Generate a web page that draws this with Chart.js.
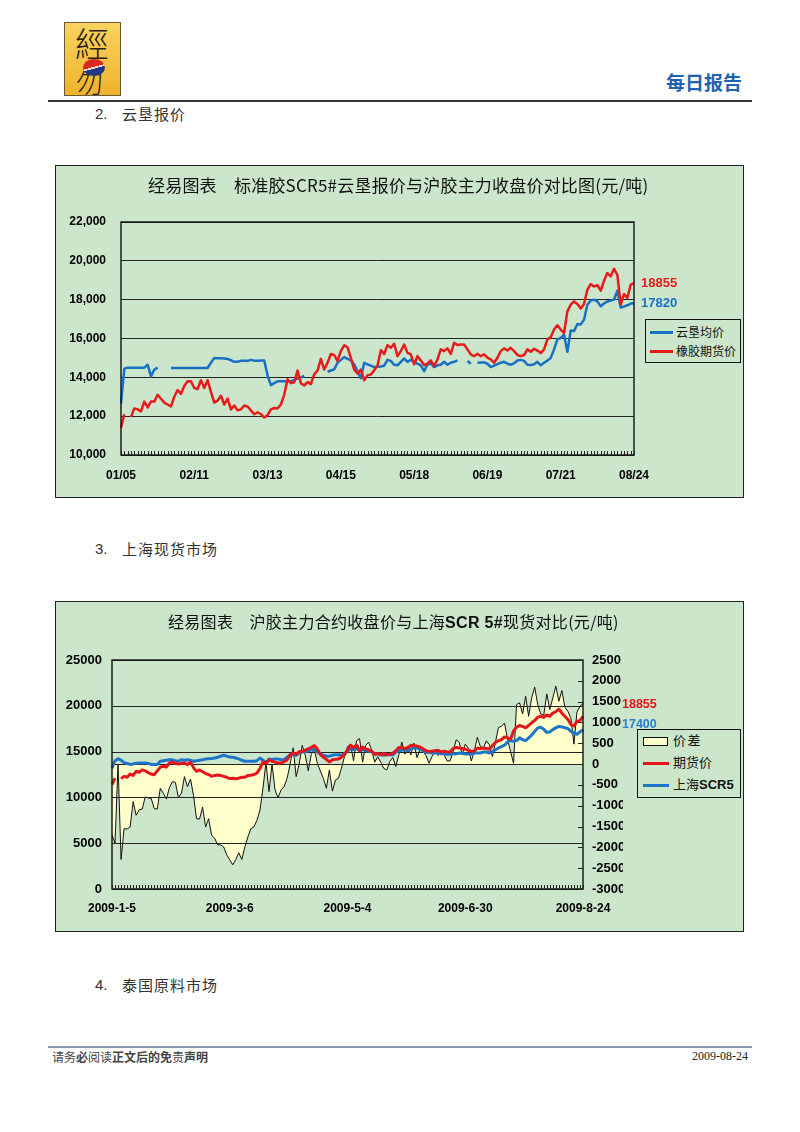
<!DOCTYPE html>
<html>
<head>
<meta charset="utf-8">
<script src="https://cdn.jsdelivr.net/npm/chart.js@4.4.1/dist/chart.umd.min.js"></script>
<style>
  body { margin: 0; width: 800px; height: 1132px; background: #fff; position: relative; overflow: hidden;
         font-family: "Noto Sans CJK SC", sans-serif; color: #222; }
  .abs { position: absolute; white-space: nowrap; }
  #logo { left: 64px; top: 22px; width: 57px; height: 74px; box-sizing: border-box; overflow: hidden;
          background: linear-gradient(180deg, #f9d35e, #efb32c); border: 1.5px solid #6b5a35; }
  #logo .c1 { left: 10px; top: 2px; font: 300 34px/36px "Noto Sans CJK TC"; color: #2b2112; }
  #logo .c2 { left: 11px; top: 45px; font: 300 27px/27px "Noto Sans CJK TC"; color: #2b2112; }
  #logo .dot { left: 18px; top: 36px; width: 22px; height: 17px; border-radius: 50%;
               background: linear-gradient(165deg, #d9281f 47%, #f3d9c0 47%, #f3d9c0 55%, #22378a 55%); }
  .sec { font-size: 15px; letter-spacing: 1px; color: #333; }
  .num { font: 15px "Liberation Sans", sans-serif; color: #333; }
  .box { box-sizing: border-box; border: 1px solid #222; background: #cce6cc; }
  .title { font-size: 17px; color: #111; letter-spacing: 0.2px; }
  .legend { box-sizing: border-box; border: 1px solid #111; background: #cce6cc; }
  .lgline { position: absolute; height: 3px; }
  .lgtxt { position: absolute; font-size: 12px; line-height: 14px; color: #111; }
</style>
</head>
<body>

<div id="logo" class="abs">
  <div class="abs c1">經</div>
  <div class="abs c2">勿</div>
  <div class="abs dot"></div>
</div>
<div class="abs" style="left:666px;top:68px;font-size:19px;font-weight:bold;color:#1e62b0;">每日报告</div>
<div class="abs" style="left:48px;top:100px;width:704px;height:1.5px;background:#333;"></div>

<div class="abs num" style="left:95px;top:105px;">2.</div>
<div class="abs sec" style="left:122px;top:103px;">云垦报价</div>

<!-- chart 1 -->
<div class="abs box" style="left:55px;top:165px;width:689px;height:333px;">
  <canvas id="c1" width="687" height="331" style="position:absolute;left:0;top:0;width:687px;height:331px;"></canvas>
</div>
<div class="abs title" style="left:148px;top:172px;">经易图表　标准胶SCR5#云垦报价与沪胶主力收盘价对比图(元/吨)</div>
<div class="abs legend" style="left:645px;top:319px;width:96px;height:44px;">
  <div class="lgline" style="left:4px;top:11px;width:23px;background:#1870c4;"></div>
  <div class="lgtxt" style="left:30px;top:5px;">云垦均价</div>
  <div class="lgline" style="left:4px;top:30px;width:23px;background:#e81a1a;"></div>
  <div class="lgtxt" style="left:30px;top:24px;">橡胶期货价</div>
</div>

<div class="abs num" style="left:95px;top:540px;">3.</div>
<div class="abs sec" style="left:122px;top:538px;">上海现货市场</div>

<!-- chart 2 -->
<div class="abs box" style="left:55px;top:601px;width:689px;height:331px;">
  <canvas id="c2" width="687" height="329" style="position:absolute;left:0;top:0;width:687px;height:329px;"></canvas>
</div>
<div class="abs title" style="left:168px;top:609px;font-size:16px;letter-spacing:0.3px;">经易图表　沪胶主力合约收盘价与上海<b style="font-family:'Liberation Sans';">SCR 5#</b>现货对比(元/吨)</div>
<div class="abs legend" style="left:637px;top:729px;width:104px;height:69px;">
  <div class="abs" style="left:5px;top:7px;width:25px;height:9px;box-sizing:border-box;border:1px solid #111;background:#ffffcc;"></div>
  <div class="lgtxt" style="left:35px;top:3px;font-size:13px;letter-spacing:1.5px;">价差</div>
  <div class="lgline" style="left:5px;top:32px;width:26px;background:#e5161b;"></div>
  <div class="lgtxt" style="left:35px;top:25px;font-size:13px;">期货价</div>
  <div class="lgline" style="left:5px;top:54px;width:26px;background:#1c75c8;"></div>
  <div class="lgtxt" style="left:35px;top:47px;font-size:13px;">上海<b style="font-family:'Liberation Sans';">SCR5</b></div>
</div>

<div class="abs num" style="left:95px;top:976px;">4.</div>
<div class="abs sec" style="left:122px;top:974px;">泰国原料市场</div>

<div class="abs" style="left:48px;top:1046px;width:704px;height:2px;background:#8798ae;"></div>
<div class="abs" style="left:52px;top:1048px;font-size:12px;color:#444;">请务<b>必</b>阅读<b>正文后的免</b>责<b>声明</b></div>
<div class="abs" style="left:692px;top:1049px;font:12px 'Liberation Serif',serif;color:#222;">2009-08-24</div>

<script>
// 图1：云垦均价 / 橡胶期货价（元/吨）
const ticks1 = ['01/05', '02/11', '03/13', '04/15', '05/18', '06/19', '07/21', '08/24'];

const yunkenPrice = [
  12650,14450,14500,14500,14500,14500,14500,14500,14650,14050,
  14400,14500,null,null,null,14480,14480,14480,14480,14480,
  14480,14480,14480,14480,14480,14480,14480,14750,15000,14980,
  14980,14970,14950,14880,14800,14800,14850,14850,14850,14900,
  14860,14860,14870,14870,14100,13600,13700,13800,13800,13800,
  13800,13800,13850,13950,14000,14080,null,null,null,null,
  null,null,14290,14350,14410,14750,14900,15040,14950,14870,
  14670,14300,13950,14750,14670,14600,14530,14550,14560,14600,
  14900,14850,14650,14620,14800,14970,14800,14900,14800,14700,
  14620,14320,14650,14720,14530,14620,14650,14800,14650,14750,
  14800,14870,null,null,14850,14700,null,14750,14760,14770,
  14700,14530,14600,14680,14750,14800,14700,14650,14720,14870,
  14900,14850,14650,14640,14670,14800,14620,14750,14860,15000,
  15440,15950,16030,16200,15320,16410,16380,16750,16720,16970,
  17740,17950,18000,17910,17660,17800,17910,17950,18000,18460,
  17600,17650,17710,17800,17820
];

const futuresPrice = [
  11400,12100,null,11950,12400,12350,12250,12750,12450,12750,
  12750,13100,12900,12700,12600,12500,13000,13350,13150,13550,
  13800,13800,13450,13400,13850,13450,13850,13250,12700,12800,
  13050,12600,12900,12350,12550,12300,12350,12550,12500,12300,
  12100,12200,12100,11930,12050,12350,12420,12400,12600,13100,
  13900,13700,13750,14350,13700,13580,13750,13650,14150,14350,
  14950,14400,14750,15200,15150,14850,15350,15650,15550,15000,
  14400,14200,14400,13850,14100,14150,14360,14600,15400,15200,
  15660,15520,15730,15090,15350,15690,15260,15180,14670,15090,
  14870,14630,14700,14870,14580,14920,15440,15350,15490,15210,
  15780,15660,15690,15690,15440,15180,15090,15210,15090,15180,
  15010,14920,14750,15010,15350,15490,15380,15520,15350,15150,
  15090,15150,15440,15320,15470,15380,15250,15440,15950,16070,
  16460,16680,16460,16290,17400,17740,17910,17780,17540,17780,
  18510,18800,18680,18750,18460,18970,19370,19200,19590,19280,
  17740,18290,18090,18770,18855
];

// 图2：价差（右轴）/ 期货价 / 上海SCR5
const ticks2 = ['2009-1-5', '2009-3-6', '2009-5-4', '2009-6-30', '2009-8-24'];

const spread = [
  -1700,-1900,0,-2290,-1550,-1560,-1510,-900,-1230,-1100,
  -1080,-790,-810,-830,-1070,-1080,-580,-700,-840,-570,
  -420,-440,-810,-700,-300,-540,-360,-750,-1310,-1320,
  -1030,-1510,-1310,-1710,-1780,-1940,-1940,-1990,-2180,-2300,
  -2420,-2290,-2130,-2290,-1990,-1750,-1550,-1510,-1350,-1110,
  -580,40,-660,0,-620,-810,-620,-540,-340,0,
  390,-300,0,450,220,-160,230,360,20,-165,
  -340,-580,-140,-650,-380,-340,-100,180,420,460,
  80,560,610,44,447,527,342,44,180,44,
  -101,-141,60,157,-60,220,527,237,382,220,
  503,157,342,302,205,20,180,302,205,302,
  220,76,76,300,583,527,220,479,382,76,
  302,640,423,382,560,463,180,527,881,906,
  986,600,302,20,1430,1470,1203,1630,1147,1590,
  1848,1429,1203,1171,1687,1308,1590,1872,1509,1767,
  1364,1268,1091,479,1252,1389,1455
];

const futures2 = [
  11400,12100,null,12050,12300,12200,12550,12400,12850,12750,
  13000,12900,12700,12550,12480,12900,13300,13400,13300,13750,
  13850,13700,13650,13700,13750,13580,13850,13250,12850,13000,
  12800,12600,12500,12300,12400,12450,12400,12300,12200,12050,
  12100,12040,12100,12200,12200,12400,12420,12500,12650,13150,
  13870,13700,14100,13950,13850,13750,13750,13900,14100,14650,
  14850,14700,15000,15000,15150,15300,15450,15650,15300,14700,
  14400,14150,13870,14100,14150,14200,14400,14650,15200,15700,
  15400,15750,15100,15500,15300,15200,15050,14700,14800,14650,
  14800,14650,14700,14800,15100,15450,15450,15300,15450,15700,
  15650,15600,15500,15300,15100,15000,15050,15100,15150,14950,
  15050,14950,14950,15350,15450,15400,15330,15250,15150,15050,
  15050,15400,15330,15400,15330,15250,15650,16000,16200,16300,
  16600,16500,16350,17250,17650,17850,17750,17600,17850,18150,
  18400,18750,18850,18750,19000,18850,19200,19350,19650,19200,
  18850,18500,17950,17800,18300,18400,18855
];

const shanghaiSCR5 = [
  13200,14000,14230,14050,13800,13700,13600,13650,13720,13750,
  13760,13760,13700,13600,13580,13600,13950,14000,14050,14100,
  14100,14000,13950,14120,14050,14120,14050,13950,14000,14050,
  14100,14200,14230,14250,14300,14380,14490,14600,14500,14400,
  14380,14300,14200,14050,13950,13950,13950,13940,14000,14300,
  14050,13800,14200,14150,14200,14200,14100,14150,14380,14650,
  14650,14600,14850,14950,15000,15080,15200,15230,14950,14750,
  14600,14500,14500,14600,14650,14650,14600,14750,15040,15300,
  15220,15330,15120,15220,15100,15050,14960,14750,14750,14650,
  14600,14650,14650,14650,14950,15100,15150,15220,15100,15300,
  15400,15400,15250,15100,14900,14950,14850,14850,14900,14750,
  14800,14700,14700,14780,14750,14850,14800,14750,14750,14740,
  14850,14850,14850,14950,14950,14850,15000,15200,15400,15550,
  15700,16060,16200,16130,16200,16500,16300,16200,16500,16800,
  17200,17590,17660,17450,17100,17150,17400,17590,17750,17700,
  17600,17520,17200,17000,16900,17150,17400
];

const tickFont = { family: 'Liberation Sans', size: 12, weight: 'bold' };

// 绘图区外框
const frame = {
  id: 'frame',
  afterDatasetsDraw(chart) {
    const { ctx, chartArea: a } = chart;
    ctx.save();
    ctx.strokeStyle = '#111';
    ctx.lineWidth = 1.4;
    ctx.strokeRect(a.left, a.top, a.right - a.left, a.bottom - a.top);
    ctx.restore();
  }
};

// 底部的密集刻度线（朝内），右轴刻度
const innerTicks = {
  id: 'innerTicks',
  afterDatasetsDraw(chart) {
    const { ctx, chartArea: a, scales } = chart;
    ctx.save();
    ctx.strokeStyle = '#222';
    ctx.lineWidth = 1;
    ctx.beginPath();
    for (let i = 0; i < chart.data.labels.length; i++) {
      const px = Math.round(scales.x.getPixelForValue(i)) + 0.5;
      ctx.moveTo(px, a.bottom);
      ctx.lineTo(px, a.bottom - 4);
    }
    if (scales.y2) {
      scales.y2.ticks.forEach(t => {
        const py = Math.round(scales.y2.getPixelForValue(t.value)) + 0.5;
        ctx.moveTo(a.right, py);
        ctx.lineTo(a.right - 5, py);
      });
    }
    ctx.stroke();
    ctx.restore();
  }
};

// 价差面积之上再画网格线
const gridOver = {
  id: 'gridOver',
  afterDatasetDraw(chart, args) {
    if (!chart.scales.y2 || args.index !== 0) return;
    const { ctx, chartArea: a, scales } = chart;
    ctx.save();
    ctx.strokeStyle = '#222';
    ctx.lineWidth = 1;
    ctx.beginPath();
    scales.y.ticks.forEach(t => {
      const py = Math.round(scales.y.getPixelForValue(t.value)) + 0.5;
      ctx.moveTo(a.left, py);
      ctx.lineTo(a.right, py);
    });
    const z = Math.round(scales.y2.getPixelForValue(0)) + 0.5;
    ctx.moveTo(a.left, z);
    ctx.lineTo(a.right, z);
    ctx.stroke();
    ctx.restore();
  }
};

// 末值标注
const endLabels = {
  id: 'endLabels',
  afterDraw(chart, args, opts) {
    const { ctx, chartArea: a } = chart;
    ctx.save();
    ctx.font = opts.font;
    ctx.textBaseline = 'middle';
    ctx.textAlign = 'left';
    opts.items.forEach(it => {
      const ds = chart.data.datasets[it.dataset];
      const v = ds.data[ds.data.length - 1];
      const y = chart.scales[ds.yAxisID || 'y'].getPixelForValue(v);
      ctx.fillStyle = it.color;
      ctx.fillText(String(v), a.right + opts.dx, y + (it.dy || 0));
    });
    ctx.restore();
  }
};

new Chart(document.getElementById('c1'), {
  type: 'line',
  data: {
    labels: yunkenPrice.map((_, i) => i),
    datasets: [
      { label: '云垦均价', data: yunkenPrice, borderColor: '#1870c4', borderWidth: 2.5, order: 2 },
      { label: '橡胶期货价', data: futuresPrice, borderColor: '#e81a1a', borderWidth: 2.5, order: 1 }
    ]
  },
  options: {
    responsive: false,
    animation: false,
    events: [],
    layout: { padding: { left: 0, right: 109, top: 56, bottom: 0 } },
    elements: { point: { radius: 0 }, line: { tension: 0, borderJoinStyle: 'round' } },
    plugins: {
      legend: { display: false },
      tooltip: { enabled: false },
      endLabels: {
        font: 'bold 13px "Liberation Sans"', dx: 7,
        items: [{ dataset: 1, color: '#e81a1a' }, { dataset: 0, color: '#1870c4' }]
      }
    },
    scales: {
      x: {
        grid: { display: false, drawTicks: false },
        border: { display: false },
        ticks: {
          autoSkip: false, maxRotation: 0, padding: 13, color: '#000', font: tickFont,
          callback: (v, i) => (i % 22 === 0 ? ticks1[i / 22] : '')
        },
        afterFit: s => { s.height = 42; }
      },
      y: {
        min: 10000, max: 22000,
        grid: { color: '#222', drawTicks: false },
        border: { display: false },
        ticks: { stepSize: 2000, padding: 15, color: '#000', font: tickFont,
                 callback: v => v.toLocaleString('en-US') },
        afterFit: s => { s.width = 65; }
      }
    }
  },
  plugins: [frame, innerTicks, endLabels]
});

new Chart(document.getElementById('c2'), {
  type: 'line',
  data: {
    labels: spread.map((_, i) => i),
    datasets: [
      { label: '价差', data: spread, yAxisID: 'y2', borderColor: '#111', borderWidth: 1,
        backgroundColor: '#ffffcc', fill: 'origin', order: 3 },
      { label: '期货价', data: futures2, yAxisID: 'y', borderColor: '#e5161b', borderWidth: 3, order: 1 },
      { label: '上海SCR5', data: shanghaiSCR5, yAxisID: 'y', borderColor: '#1c75c8', borderWidth: 3, order: 2 }
    ]
  },
  options: {
    responsive: false,
    animation: false,
    events: [],
    layout: { padding: { left: 0, right: 120, top: 58, bottom: 0 } },
    elements: { point: { radius: 0 }, line: { tension: 0, borderJoinStyle: 'round' } },
    plugins: {
      legend: { display: false },
      tooltip: { enabled: false },
      endLabels: {
        font: 'bold 12.5px "Liberation Sans"', dx: 39,
        items: [{ dataset: 1, color: '#e5161b', dy: -12 }, { dataset: 2, color: '#2a80d2', dy: -5 }]
      }
    },
    scales: {
      x: {
        grid: { display: false, drawTicks: false },
        border: { display: false },
        ticks: {
          autoSkip: false, maxRotation: 0, padding: 12, color: '#000', font: tickFont,
          callback: (v, i) => (i % 39 === 0 ? ticks2[i / 39] : '')
        },
        afterFit: s => { s.height = 42; }
      },
      y: {
        position: 'left', min: 0, max: 25000,
        grid: { display: false, drawTicks: false },
        border: { display: false },
        ticks: { stepSize: 5000, padding: 10, color: '#000', font: { ...tickFont, size: 13 },
                 callback: v => String(v) },
        afterFit: s => { s.width = 56; }
      },
      y2: {
        position: 'right', min: -3000, max: 2500,
        grid: { display: false, drawTicks: false },
        border: { display: false },
        ticks: { stepSize: 500, padding: 9, color: '#000', font: { ...tickFont, size: 13 },
                 callback: v => String(v) },
        afterFit: s => { s.width = 40; }
      }
    }
  },
  plugins: [gridOver, frame, innerTicks, endLabels]
});
</script>
</body>
</html>
